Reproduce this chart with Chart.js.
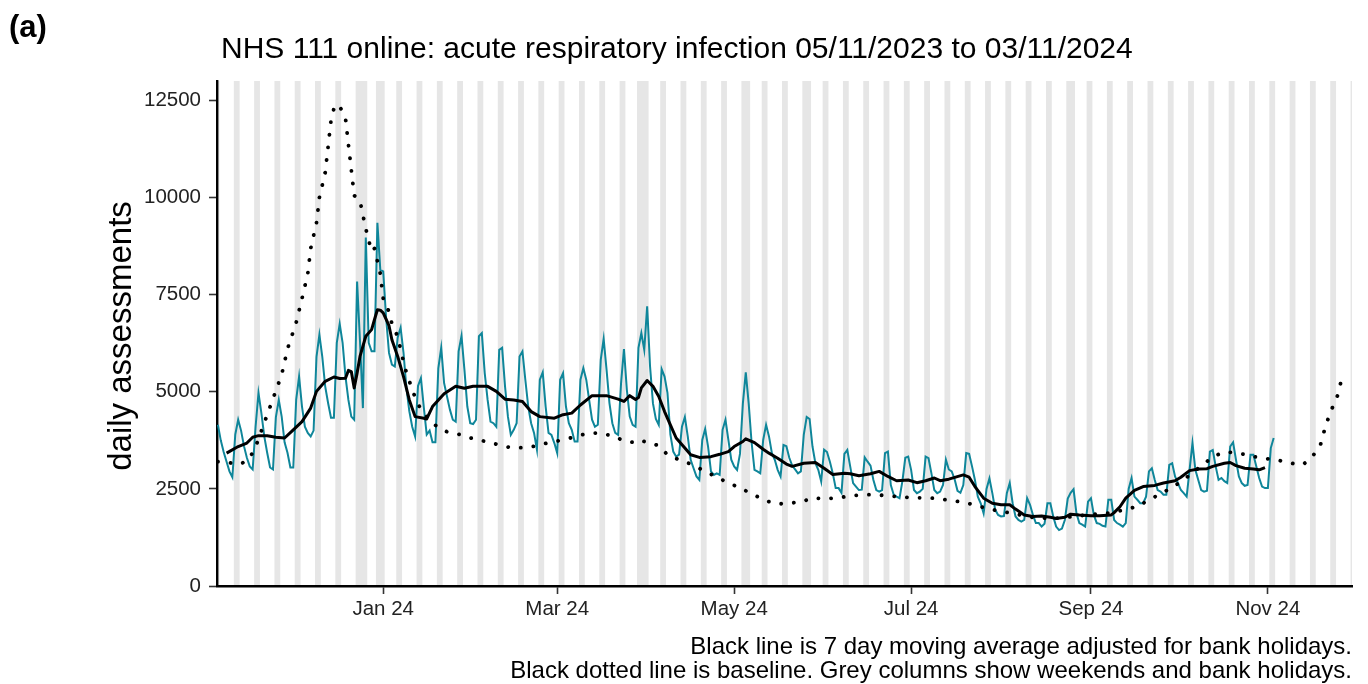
<!DOCTYPE html>
<html lang="en">
<head>
<meta charset="utf-8">
<script src="https://cdn.jsdelivr.net/npm/chart.js@4.4.1/dist/chart.umd.min.js"></script>
<style>
    html, body {margin:0; padding:0; background:#fff}
    .reportGraph {width:1368px; height:684px}
</style>
</head>
<body>

<div class="reportGraph"><canvas id="canvas" width="1368" height="684"></canvas></div>

<script type="text/javascript">
'use strict';

var startDate = '2023-11-05';
// daily assessments, one row per week (Sun .. Sat)
var dailyAssessments = [
    4150, 3750, 3450, 3200, 2950, 2800, 3900,
    4280, 4000, 3600, 3300, 3080, 3000, 4100,
    4970, 4450, 3850, 3430, 3050, 3000, 4350,
    4790, 4360, 3700, 3430, 3050, 3050, 4800,
    5390, 4620, 4100, 3940, 3850, 4000, 5900,
    6470, 5900, 5140, 4710, 4330, 4330, 6260,
    6750, 6260, 5390, 4790, 4360, 4280, 7840,
    6300, 4580, 8970, 6260, 6040, 6040, 9350,
    8140, 8100, 6900, 6000, 5700, 5650, 6400,
    6650, 6000, 5100, 4500, 4100, 3850, 5150,
    5350, 4600, 3900, 4000, 3700, 3700, 5600,
    6130, 5220, 4880, 4540, 4280, 4230, 6040,
    6440, 5570, 4620, 4190, 4170, 4280, 6430,
    6510, 5480, 4790, 4230, 4190, 4100, 6080,
    6130, 5140, 4360, 3890, 4020, 4190, 5910,
    6040, 5310, 4620, 4190, 3940, 3510, 5310,
    5500, 4620, 3940, 3890, 3680, 3420, 5310,
    5480, 4620, 4190, 4020, 3720, 3720, 5310,
    5610, 5310, 4790, 4280, 4100, 4150, 5820,
    6360, 5570, 4710, 4190, 3940, 3890, 5220,
    6100, 5050, 4360, 4150, 4100, 6130, 6510,
    6080, 7200, 5650, 4700, 4300, 4150, 5580,
    5390, 4970, 3900, 3460, 3330, 3380, 4100,
    4350, 3850, 3250, 3030, 2820, 2730, 3760,
    4040, 3590, 2950, 2860, 2900, 2860, 4020,
    4280, 3760, 3250, 3080, 2990, 3400, 4700,
    5500, 4700, 3700, 2990, 2950, 2900, 3760,
    4150, 3850, 3420, 3250, 2990, 2820, 3630,
    3600, 3300, 3100, 3000, 2900, 2950, 3900,
    4350, 4300, 3590, 3160, 2990, 2690, 3510,
    3450, 3200, 2900, 2520, 2520, 2400, 3400,
    3500, 3080, 2650, 2560, 2470, 2480, 3310,
    3200, 3100, 2730, 2470, 2430, 2470, 3420,
    3460, 2600, 2350, 2300, 2260, 2700, 3300,
    3330, 2990, 2470, 2390, 2430, 2500, 3330,
    3290, 2900, 2470, 2390, 2430, 2600, 3250,
    3000, 2950, 2750, 2450, 2400, 2600, 3420,
    3400, 3080, 2730, 2300, 2130, 1870, 2500,
    2770, 2390, 1960, 1830, 1790, 1800, 2390,
    2650, 2130, 1790, 1700, 1660, 1700, 2260,
    2090, 1830, 1620, 1620, 1530, 1600, 2130,
    2130, 1790, 1530, 1440, 1480, 1700, 2250,
    2400, 2490, 1870, 1620, 1580, 1530, 2170,
    2260, 1830, 1620, 1600, 1550, 1530, 2220,
    2220, 1700, 1620, 1580, 1530, 1620, 2500,
    2780, 2300, 2220, 2130, 2130, 2300, 2950,
    3030, 2730, 2470, 2430, 2350, 2350, 3120,
    3160, 2820, 2650, 2470, 2390, 2300, 2990,
    3680, 2990, 2730, 2470, 2430, 2450, 3460,
    3500, 3080, 2730, 2780, 2700, 2650, 3590,
    3700, 3250, 2820, 2650, 2580, 2600, 3380,
    3380, 3080, 2780, 2560, 2520, 2520, 3550,
    3810
];

// 7 day moving average (black line)
var maDates = ['2023-11-08','2023-11-12','2023-11-15','2023-11-17','2023-11-19','2023-11-22','2023-11-25','2023-11-28',
    '2023-12-01','2023-12-04','2023-12-07','2023-12-09','2023-12-12','2023-12-15','2023-12-17','2023-12-19','2023-12-20',
    '2023-12-21','2023-12-22','2023-12-23','2023-12-24','2023-12-26','2023-12-28','2023-12-29','2023-12-30','2023-12-31',
    '2024-01-01','2024-01-03','2024-01-04','2024-01-06','2024-01-08','2024-01-10','2024-01-12','2024-01-15','2024-01-16',
    '2024-01-18','2024-01-22','2024-01-26','2024-01-29','2024-02-01','2024-02-06','2024-02-09','2024-02-12','2024-02-15',
    '2024-02-18','2024-02-21','2024-02-24','2024-02-29','2024-03-03','2024-03-06','2024-03-09','2024-03-13','2024-03-18',
    '2024-03-22','2024-03-24','2024-03-26','2024-03-28','2024-03-29','2024-03-30','2024-04-01','2024-04-03','2024-04-05',
    '2024-04-07','2024-04-09','2024-04-11','2024-04-14','2024-04-16','2024-04-19','2024-04-23','2024-04-26','2024-04-29',
    '2024-05-01','2024-05-04','2024-05-05','2024-05-08','2024-05-11','2024-05-13','2024-05-16','2024-05-19','2024-05-21',
    '2024-05-25','2024-05-29','2024-06-01','2024-06-04','2024-06-08','2024-06-10','2024-06-13','2024-06-17','2024-06-20',
    '2024-06-23','2024-06-26','2024-06-30','2024-07-03','2024-07-06','2024-07-09','2024-07-11','2024-07-14','2024-07-19',
    '2024-07-21','2024-07-23','2024-07-26','2024-07-29','2024-08-01','2024-08-04','2024-08-06','2024-08-09','2024-08-12',
    '2024-08-15','2024-08-18','2024-08-20','2024-08-23','2024-08-25','2024-08-28','2024-09-01','2024-09-04','2024-09-08',
    '2024-09-09','2024-09-11','2024-09-13','2024-09-16','2024-09-19','2024-09-23','2024-09-26','2024-09-30','2024-10-02',
    '2024-10-05','2024-10-08','2024-10-11','2024-10-13','2024-10-17','2024-10-19','2024-10-21','2024-10-24','2024-10-27',
    '2024-10-29','2024-10-31'];
var maValues = [3420,3590,3680,3830,3870,3870,3830,3810,
    4020,4230,4580,5010,5270,5380,5340,5350,5550,
    5520,5100,5480,5910,6430,6600,6860,7110,7100,
    7030,6700,6340,5910,5390,4790,4360,4320,4300,
    4620,4950,5140,5090,5140,5140,5010,4810,4790,
    4750,4490,4360,4320,4410,4450,4660,4900,4900,
    4810,4750,4900,4800,4850,5100,5290,5140,4880,
    4490,4150,3810,3550,3380,3310,3330,3390,3460,
    3590,3720,3790,3690,3520,3420,3290,3140,3080,
    3160,3180,3030,2870,2900,2890,2840,2890,2950,
    2820,2710,2730,2660,2710,2780,2710,2750,2860,
    2800,2560,2260,2130,2090,2090,1980,1830,1790,
    1800,1770,1740,1770,1850,1830,1810,1810,1830,
    1890,2040,2260,2460,2560,2590,2650,2710,2800,
    2970,3010,3020,3080,3160,3180,3100,3030,3010,
    2990,3050];

// baseline (dotted line)
var baseDates = ['2023-11-05','2023-11-13','2023-11-16','2023-11-18','2023-11-21','2023-11-24','2023-11-27','2023-11-29',
    '2023-12-02','2023-12-04','2023-12-06','2023-12-07','2023-12-09','2023-12-10','2023-12-12','2023-12-13','2023-12-14',
    '2023-12-15','2023-12-16','2023-12-17','2023-12-19','2023-12-20','2023-12-21','2023-12-22','2023-12-23','2023-12-24',
    '2023-12-25','2023-12-26','2023-12-27','2023-12-28','2023-12-29','2023-12-31','2024-01-01','2024-01-03','2024-01-04',
    '2024-01-06','2024-01-08','2024-01-09','2024-01-12','2024-01-14','2024-01-17','2024-01-20','2024-01-23','2024-01-28',
    '2024-02-01','2024-02-06','2024-02-10','2024-02-14','2024-02-19','2024-02-23','2024-02-27','2024-03-03','2024-03-07',
    '2024-03-11','2024-03-15','2024-03-20','2024-03-24','2024-03-28','2024-03-29','2024-04-01','2024-04-05','2024-04-08',
    '2024-04-12','2024-04-16','2024-04-20','2024-04-24','2024-04-28','2024-05-02','2024-05-05','2024-05-12','2024-05-16',
    '2024-05-21','2024-05-24','2024-05-28','2024-06-01','2024-06-06','2024-06-10','2024-06-15','2024-06-19','2024-06-23',
    '2024-06-28','2024-07-02','2024-07-07','2024-07-11','2024-07-16','2024-07-20','2024-07-24','2024-07-28','2024-08-02',
    '2024-08-06','2024-08-10','2024-08-15','2024-08-19','2024-08-23','2024-08-27','2024-08-31','2024-09-04','2024-09-09',
    '2024-09-13','2024-09-17','2024-09-21','2024-09-25','2024-09-29','2024-10-03','2024-10-06','2024-10-10','2024-10-13',
    '2024-10-17','2024-10-22','2024-10-26','2024-10-30','2024-11-04','2024-11-08','2024-11-13','2024-11-16','2024-11-19',
    '2024-11-21','2024-11-23','2024-11-25','2024-11-27'];
var baseValues = [3200,3140,3300,3580,4200,4820,5440,6100,
    6780,7400,8040,8690,9350,10000,10640,11310,11980,
    12290,12400,12350,12040,11370,10720,10050,10000,9920,
    9550,9200,8900,8610,8690,8040,7400,7060,6750,
    6420,5770,5490,4850,4540,4280,4070,3970,3890,
    3790,3710,3630,3560,3560,3610,3690,3760,3840,
    3920,3940,3870,3740,3690,3740,3710,3610,3380,
    3250,3140,2990,2840,2690,2560,2450,2190,2110,
    2140,2160,2270,2240,2270,2320,2350,2350,2320,
    2290,2270,2270,2240,2190,2140,2060,1980,1910,
    1860,1780,1750,1740,1760,1800,1830,1860,1890,
    1980,2040,2220,2370,2540,2730,2920,3140,3330,
    3450,3420,3350,3290,3250,3170,3120,3300,3600,
    4150,4550,4900,5500];

var bankHolidays = ['2023-12-25','2023-12-26','2024-01-01','2024-03-29','2024-04-01','2024-05-06','2024-05-27','2024-08-26'];

var xTickDates = ['2024-01-01','2024-03-01','2024-05-01','2024-07-01','2024-09-01','2024-11-01'];
var xTickLabels = ['Jan 24','Mar 24','May 24','Jul 24','Sep 24','Nov 24'];
var yTicks = [0, 2500, 5000, 7500, 10000, 12500];

var FONT = '"Liberation Sans", Arial, sans-serif';

// days since 1 Jan 2024
function dayNo(s) {
    var p = s.split('-');
    return (Date.UTC(+p[0], +p[1] - 1, +p[2]) - Date.UTC(2024, 0, 1)) / 864e5;
}

var X_MIN = -57.3, X_MAX = 334;

// grey columns go under the axes, so draw them before anything else
var shadePlugin = {
    id: 'shade',
    beforeDraw: function(chart) {
        var ctx = chart.ctx, xs = chart.scales.x, a = chart.chartArea;
        var hol = bankHolidays.map(dayNo);
        var runs = [], cur = null;
        for (var d = Math.floor(X_MIN) - 1; d <= Math.ceil(X_MAX) + 1; d++) {
            var dow = new Date(Date.UTC(2024, 0, 1) + d * 864e5).getUTCDay();
            var grey = dow === 0 || dow === 6 || hol.indexOf(d) >= 0;
            if (grey) {
                if (cur && cur[1] === d - 1) cur[1] = d; else { cur = [d, d]; runs.push(cur); }
            }
        }
        ctx.save();
        ctx.beginPath();
        ctx.rect(a.left, a.top, a.right - a.left, a.bottom - a.top);
        ctx.clip();
        ctx.fillStyle = '#e6e6e6';
        runs.forEach(function(r) {
            var x0 = xs.getPixelForValue(r[0] - 0.5), x1 = xs.getPixelForValue(r[1] + 0.5);
            ctx.fillRect(x0, a.top, x1 - x0, a.bottom - a.top);
        });
        ctx.restore();
    }
};

var textPlugin = {
    id: 'texts',
    afterDraw: function(chart) {
        var ctx = chart.ctx;
        ctx.save();
        ctx.fillStyle = '#000';
        ctx.textBaseline = 'alphabetic';
        ctx.textAlign = 'left';
        ctx.font = 'bold 31px ' + FONT;
        ctx.fillText('(a)', 9, 37);
        ctx.font = '30px ' + FONT;
        ctx.fillText('NHS 111 online: acute respiratory infection 05/11/2023 to 03/11/2024', 221, 58);
        ctx.save();
        ctx.translate(131, 336);
        ctx.rotate(-Math.PI / 2);
        ctx.textAlign = 'center';
        ctx.font = '33px ' + FONT;
        ctx.fillText('daily assessments', 0, 0);
        ctx.restore();
        ctx.textAlign = 'right';
        ctx.font = '24px ' + FONT;
        ctx.fillText('Black line is 7 day moving average adjusted for bank holidays.', 1352, 654);
        ctx.fillText('Black dotted line is baseline. Grey columns show weekends and bank holidays.', 1352, 678);
        ctx.restore();
    }
};

function drawGraphs() {
    var start = dayNo(startDate);
    var daily = dailyAssessments.map(function(v, i) { return {x: start + i, y: v}; });
    var ma = maDates.map(function(d, i) { return {x: dayNo(d), y: maValues[i]}; });
    var base = baseDates.map(function(d, i) { return {x: dayNo(d), y: baseValues[i]}; });

    new Chart(document.getElementById('canvas'), {
        type: 'line',
        data: {
            datasets: [
                {label: '7 day moving average', data: ma, borderColor: '#000', borderWidth: 3,
                    pointRadius: 0, tension: 0, borderJoinStyle: 'round'},
                {label: 'baseline', data: base, borderColor: '#000', borderWidth: 3.8,
                    borderDash: [0.1, 12.6], borderCapStyle: 'round', pointRadius: 0, tension: 0},
                {label: 'daily assessments', data: daily, borderColor: '#0f869a', borderWidth: 2,
                    pointRadius: 0, tension: 0}
            ]
        },
        options: {
            responsive: false,
            animation: false,
            layout: {padding: {top: 81, right: 16, left: 0, bottom: 0}},
            plugins: {legend: {display: false}, tooltip: {enabled: false}, title: {display: false}},
            scales: {
                x: {
                    type: 'linear', min: X_MIN, max: X_MAX,
                    afterBuildTicks: function(s) { s.ticks = xTickDates.map(function(d) { return {value: dayNo(d)}; }); },
                    afterFit: function(s) { s.height = 98; },
                    ticks: {
                        autoSkip: false, maxRotation: 0, color: '#222', padding: 3,
                        font: {family: FONT, size: 20.5},
                        callback: function(v, i) { return xTickLabels[i]; }
                    },
                    grid: {drawOnChartArea: false, drawTicks: true, tickLength: 8, tickColor: '#333', tickWidth: 1.6},
                    border: {display: true, color: '#000', width: 2.4}
                },
                y: {
                    min: 0, max: 13000,
                    afterBuildTicks: function(s) { s.ticks = yTicks.map(function(v) { return {value: v}; }); },
                    afterFit: function(s) { s.width = 217; },
                    ticks: {
                        color: '#222', padding: 8, font: {family: FONT, size: 20.5},
                        callback: function(v) { return String(v); }
                    },
                    grid: {drawOnChartArea: false, drawTicks: true, tickLength: 8, tickColor: '#333', tickWidth: 1.6},
                    border: {display: true, color: '#000', width: 2.4}
                }
            }
        },
        plugins: [shadePlugin, textPlugin]
    });
}

window.onload = function() {
    drawGraphs();
};
</script>
</body>
</html>
